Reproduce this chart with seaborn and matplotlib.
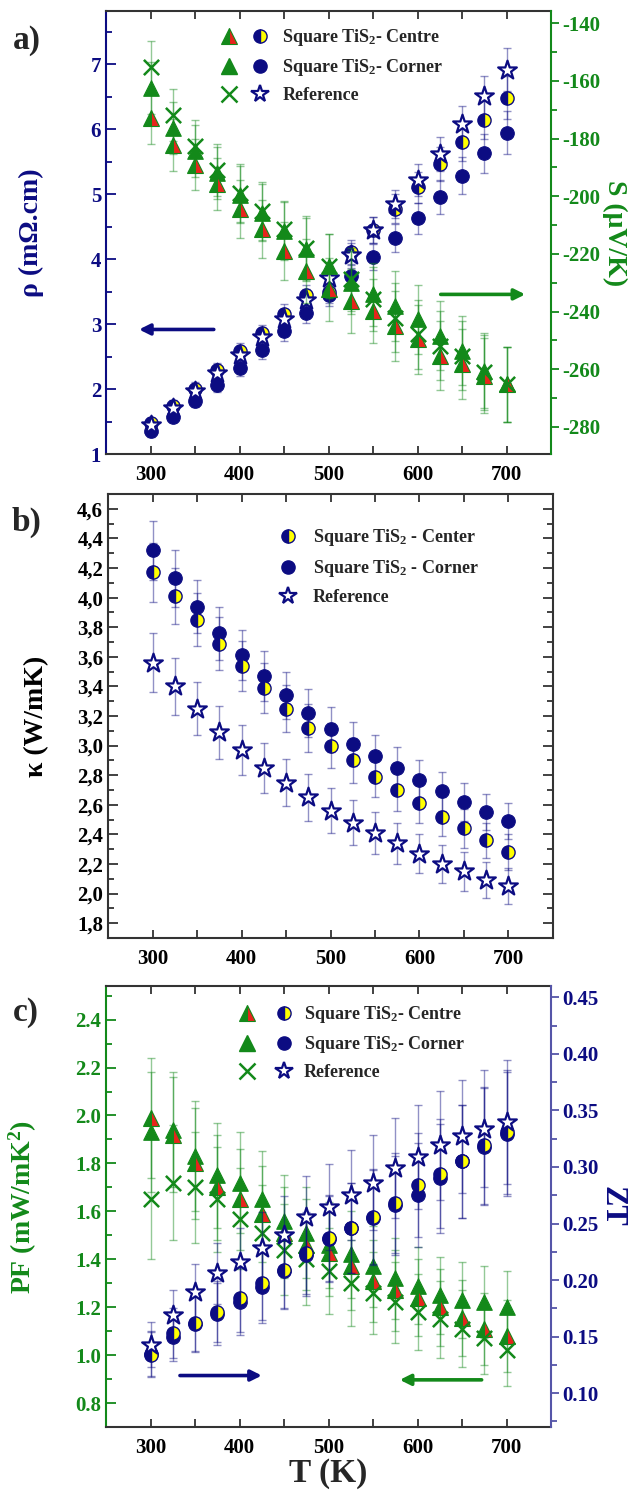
"""
plot.py - TiS2 thermoelectric properties (rho/S, kappa, PF/ZT) vs temperature.
"""

import matplotlib
matplotlib.use("Agg")
import pandas as pd
import seaborn as sns
import matplotlib.pyplot as plt
from matplotlib.lines import Line2D
from matplotlib.legend_handler import HandlerTuple
from matplotlib.ticker import MultipleLocator, FuncFormatter

# ---- data ----
T = [300, 325, 350, 375, 400, 425, 450, 475, 500, 525, 550, 575, 600, 625, 650, 675, 700]

rho_centre = [1.48, 1.74, 2.01, 2.29, 2.59, 2.86, 3.16, 3.45, 3.50, 4.11, 4.45, 4.78, 5.11, 5.47, 5.80, 6.15, 6.49]
rho_corner = [1.35, 1.58, 1.82, 2.07, 2.33, 2.60, 2.89, 3.18, 3.45, 3.74, 4.04, 4.33, 4.63, 4.96, 5.29, 5.63, 5.95]
rho_ref = [1.45, 1.71, 1.97, 2.25, 2.53, 2.81, 3.08, 3.38, 3.71, 4.06, 4.45, 4.85, 5.22, 5.62, 6.08, 6.52, 6.92]
rho_err = [0.08, 0.09, 0.10, 0.11, 0.12, 0.13, 0.15, 0.16, 0.17, 0.19, 0.20, 0.22, 0.24, 0.26, 0.28, 0.30, 0.33]

S_centre = [-172.9, -182.1, -189.0, -195.9, -204.4, -211.3, -219.0, -226.0, -232.3, -236.3, -239.8, -245.0, -249.6, -255.4, -258.2, -262.3, -265.2]
S_corner = [-162.5, -176.3, -184.4, -191.9, -199.4, -205.7, -212.1, -218.4, -224.2, -230.0, -234.0, -238.1, -242.7, -248.4, -253.6, -260.6, -265.2]
S_ref = [-155.0, -171.7, -182.7, -190.8, -198.8, -205.2, -211.5, -217.9, -224.2, -228.8, -235.7, -242.1, -247.9, -251.9, -255.4, -261.1, -265.2]
S_err = [9, 9, 9, 9, 10, 10, 10, 11, 11, 11, 11, 12, 12, 12, 12, 13, 13]

k_centre = [4.17, 4.01, 3.85, 3.69, 3.54, 3.39, 3.25, 3.12, 3.00, 2.90, 2.79, 2.70, 2.61, 2.52, 2.44, 2.36, 2.28]
k_corner = [4.32, 4.13, 3.94, 3.76, 3.61, 3.47, 3.34, 3.22, 3.11, 3.01, 2.93, 2.85, 2.77, 2.69, 2.62, 2.55, 2.49]
k_ref = [3.56, 3.40, 3.25, 3.09, 2.97, 2.85, 2.75, 2.65, 2.56, 2.48, 2.41, 2.34, 2.27, 2.20, 2.15, 2.09, 2.05]
k_err = [0.20, 0.19, 0.18, 0.18, 0.17, 0.17, 0.16, 0.16, 0.15, 0.15, 0.14, 0.14, 0.13, 0.13, 0.13, 0.12, 0.12]

pf_centre = [1.99, 1.92, 1.80, 1.70, 1.65, 1.59, 1.51, 1.46, 1.425, 1.37, 1.31, 1.27, 1.24, 1.20, 1.155, 1.11, 1.08]
pf_corner = [1.93, 1.94, 1.83, 1.75, 1.72, 1.65, 1.56, 1.51, 1.46, 1.42, 1.37, 1.32, 1.29, 1.25, 1.23, 1.22, 1.20]
pf_ref = [1.65, 1.72, 1.70, 1.65, 1.57, 1.51, 1.44, 1.40, 1.35, 1.30, 1.26, 1.22, 1.18, 1.15, 1.11, 1.07, 1.02]
pf_err = [0.25, 0.24, 0.23, 0.22, 0.21, 0.20, 0.19, 0.19, 0.18, 0.18, 0.17, 0.17, 0.16, 0.16, 0.16, 0.15, 0.15]

zt_centre = [0.134, 0.153, 0.162, 0.172, 0.184, 0.197, 0.209, 0.224, 0.237, 0.246, 0.256, 0.268, 0.284, 0.294, 0.305, 0.319, 0.331]
zt_corner = [0.135, 0.150, 0.161, 0.170, 0.181, 0.194, 0.208, 0.222, 0.236, 0.246, 0.255, 0.266, 0.275, 0.290, 0.305, 0.318, 0.329]
zt_ref = [0.143, 0.169, 0.189, 0.206, 0.216, 0.228, 0.240, 0.256, 0.265, 0.275, 0.286, 0.299, 0.309, 0.319, 0.327, 0.334, 0.340]
zt_err = [0.020, 0.022, 0.025, 0.027, 0.030, 0.032, 0.034, 0.036, 0.038, 0.040, 0.042, 0.044, 0.046, 0.048, 0.050, 0.052, 0.055]

NAVY = "#0c0c82"
GREEN = "#13891a"
RED = "#e8241c"
YELLOW = "#ffff00"
DARK = "#333333"

sns.set_theme(style="ticks")
plt.rcParams["font.family"] = ["Liberation Serif", "DejaVu Serif"]
plt.rcParams["font.weight"] = "bold"
plt.rcParams["axes.labelweight"] = "bold"
plt.rcParams["axes.unicode_minus"] = False
plt.rcParams["mathtext.fontset"] = "custom"
plt.rcParams["mathtext.rm"] = "Liberation Serif:bold"
plt.rcParams["mathtext.it"] = "Liberation Serif:bold"
plt.rcParams["mathtext.bf"] = "Liberation Serif:bold"

TICK_FS = 15
LAB_FS = 20
LEG_FS = 13

fig = plt.figure(figsize=(6.43, 14.94), dpi=100)


def err_bars(ax, y, err, color):
    ax.errorbar(T, y, yerr=err, fmt="none", ecolor=color, alpha=0.45,
                elinewidth=1.0, capsize=3, capthick=1.0, zorder=1)


def half_circle(ax, y):
    ax.plot(T, y, ls="none", marker="o", ms=9.5, fillstyle="left",
            mfc=NAVY, mfcalt=YELLOW, mec=NAVY, mew=1.0, zorder=3)


def half_triangle(ax, y):
    ax.plot(T, y, ls="none", marker="^", ms=11, fillstyle="left",
            mfc=GREEN, mfcalt=RED, mec=GREEN, mew=0.8, zorder=3)


def full_circle(ax, y):
    sns.scatterplot(x=T, y=y, ax=ax, marker="o", s=95, color=NAVY,
                    edgecolor=NAVY, linewidth=0.8, zorder=2, legend=False)


def full_triangle(ax, y):
    sns.scatterplot(x=T, y=y, ax=ax, marker="^", s=125, color=GREEN,
                    edgecolor=GREEN, linewidth=0.8, zorder=2, legend=False)


def star(ax, y):
    sns.scatterplot(x=T, y=y, ax=ax, marker="*", s=200, color="white",
                    edgecolor=NAVY, linewidth=1.6, zorder=4, legend=False)


def cross(ax, y):
    sns.scatterplot(x=T, y=y, ax=ax, marker="x", s=120, color=GREEN,
                    linewidth=1.8, zorder=4, legend=False)


h_tri_half = Line2D([], [], ls="none", marker="^", ms=11, fillstyle="left",
                    mfc=GREEN, mfcalt=RED, mec=GREEN, mew=0.8)
h_tri = Line2D([], [], ls="none", marker="^", ms=11, color=GREEN)
h_x = Line2D([], [], ls="none", marker="x", ms=11, mew=1.8, color=GREEN)
h_circ_half = Line2D([], [], ls="none", marker="o", ms=9.5, fillstyle="left",
                     mfc=NAVY, mfcalt=YELLOW, mec=NAVY, mew=1.0)
h_circ = Line2D([], [], ls="none", marker="o", ms=9.5, color=NAVY)
h_star = Line2D([], [], ls="none", marker="*", ms=13, mfc="white", mec=NAVY, mew=1.6)


def style_x(ax):
    ax.set_xlim(250, 750)
    ax.xaxis.set_major_locator(MultipleLocator(100))
    ax.xaxis.set_minor_locator(MultipleLocator(50))
    ax.tick_params(axis="x", which="both", direction="in", top=True, bottom=True,
                   labelsize=TICK_FS, colors=DARK, labelcolor="black", pad=8)
    ax.tick_params(axis="x", which="major", length=6, width=1.3)
    ax.tick_params(axis="x", which="minor", length=6, width=1.3)
    ax.spines["top"].set_color(DARK)
    ax.spines["bottom"].set_color(DARK)
    for s in ax.spines.values():
        s.set_linewidth(1.5)


def arrow(ax, x0, x1, y, color):
    ax.annotate("", xy=(x1, y), xytext=(x0, y),
                arrowprops=dict(arrowstyle="-|>", color=color, lw=2.6,
                                mutation_scale=16, shrinkA=0, shrinkB=0))


# ---------------- a) resistivity + Seebeck ----------------
axa = fig.add_axes([0.165, 0.696, 0.692, 0.2965])
axa2 = axa.twinx()

err_bars(axa, rho_corner, rho_err, NAVY)
err_bars(axa, rho_centre, rho_err, NAVY)
err_bars(axa, rho_ref, rho_err, NAVY)
full_circle(axa, rho_corner)
half_circle(axa, rho_centre)
star(axa, rho_ref)

err_bars(axa2, S_centre, S_err, GREEN)
err_bars(axa2, S_corner, S_err, GREEN)
err_bars(axa2, S_ref, S_err, GREEN)
full_triangle(axa2, S_corner)
half_triangle(axa2, S_centre)
cross(axa2, S_ref)

style_x(axa)
axa.set_ylim(1, 7.82)
axa.yaxis.set_major_locator(MultipleLocator(1))
axa.yaxis.set_minor_locator(MultipleLocator(0.5))
axa.tick_params(axis="y", which="both", direction="in", colors=NAVY,
                labelsize=TICK_FS, width=1.3)
axa.tick_params(axis="y", which="major", length=7)
axa.tick_params(axis="y", which="minor", length=4)
axa.spines["left"].set_color(NAVY)
axa.spines["right"].set_visible(False)
axa.set_ylabel("ρ (mΩ.cm)", color=NAVY, fontsize=LAB_FS)
axa.yaxis.set_label_coords(-0.14, 0.5)
axa.set_xlabel("")

axa2.set_ylim(-289.5, -135.8)
axa2.yaxis.set_major_locator(MultipleLocator(20))
axa2.yaxis.set_minor_locator(MultipleLocator(10))
axa2.yaxis.set_major_formatter(FuncFormatter(lambda v, p: f"{v:.0f}"))
axa2.tick_params(axis="y", which="both", direction="out", colors=GREEN,
                 labelsize=TICK_FS, width=1.3, pad=2)
axa2.tick_params(axis="y", which="major", length=6)
axa2.tick_params(axis="y", which="minor", length=4)
for side in ["left", "top", "bottom"]:
    axa2.spines[side].set_visible(False)
axa2.spines["right"].set_color(GREEN)
axa2.spines["right"].set_linewidth(1.5)
axa2.set_ylabel("S (μV/K)", color=GREEN, fontsize=LAB_FS, rotation=270)
axa2.yaxis.set_label_coords(1.17, 0.5)

arrow(axa, 371, 287, 2.92, NAVY)
arrow(axa, 626, 721, 3.46, GREEN)

axa2.legend([(h_tri_half, h_circ_half), (h_tri, h_circ), (h_x, h_star)],
            ["Square TiS$_2$- Centre", "Square TiS$_2$- Corner", "Reference"],
            handler_map={tuple: HandlerTuple(ndivide=None, pad=0.8)},
            loc="upper left", bbox_to_anchor=(212 / 643, 1 - 18 / 1494),
            bbox_transform=fig.transFigure, frameon=False, fontsize=LEG_FS,
            handlelength=2.6, handletextpad=0.8, labelspacing=0.5, borderpad=0)

fig.text(27 / 643, 1 - 40 / 1494, "a)", fontsize=24, ha="center", va="center")

# ---------------- b) thermal conductivity ----------------
axb = fig.add_axes([0.168, 0.3722, 0.692, 0.2971])
err_bars(axb, k_corner, k_err, NAVY)
err_bars(axb, k_centre, k_err, NAVY)
err_bars(axb, k_ref, k_err, NAVY)
full_circle(axb, k_corner)
half_circle(axb, k_centre)
star(axb, k_ref)

style_x(axb)
axb.set_ylim(1.7, 4.7)
axb.yaxis.set_major_locator(MultipleLocator(0.2))
axb.yaxis.set_minor_locator(MultipleLocator(0.1))
axb.yaxis.set_major_formatter(FuncFormatter(lambda v, p: f"{v:.1f}".replace(".", ",")))
axb.tick_params(axis="y", which="both", direction="in", left=True, right=True,
                colors=DARK, labelcolor="black", labelsize=TICK_FS, width=1.3)
axb.tick_params(axis="y", which="major", length=7)
axb.tick_params(axis="y", which="minor", length=4)
axb.spines["left"].set_color(DARK)
axb.spines["right"].set_color(DARK)
axb.set_ylabel("κ (W/mK)", color="black", fontsize=LAB_FS)
axb.yaxis.set_label_coords(-0.133, 0.5)
axb.set_xlabel("")

axb.legend([h_circ_half, h_circ, h_star],
           ["Square TiS$_2$ - Center", "Square TiS$_2$ - Corner", "Reference"],
           loc="upper left", bbox_to_anchor=(268 / 643, 1 - 518 / 1494),
           bbox_transform=fig.transFigure, frameon=False, fontsize=LEG_FS,
           handlelength=1.2, handletextpad=0.8, labelspacing=0.55, borderpad=0)

fig.text(27 / 643, 1 - 522 / 1494, "b)", fontsize=24, ha="center", va="center")

# ---------------- c) power factor + ZT ----------------
axc = fig.add_axes([0.165, 0.0448, 0.692, 0.2952])
axc2 = axc.twinx()

err_bars(axc, pf_centre, pf_err, GREEN)
err_bars(axc, pf_corner, pf_err, GREEN)
err_bars(axc, pf_ref, pf_err, GREEN)
full_triangle(axc, pf_corner)
half_triangle(axc, pf_centre)
cross(axc, pf_ref)

err_bars(axc2, zt_corner, zt_err, NAVY)
err_bars(axc2, zt_centre, zt_err, NAVY)
err_bars(axc2, zt_ref, zt_err, NAVY)
full_circle(axc2, zt_corner)
half_circle(axc2, zt_centre)
star(axc2, zt_ref)

style_x(axc)
axc.set_ylim(0.7, 2.54)
axc.yaxis.set_major_locator(MultipleLocator(0.2))
axc.yaxis.set_minor_locator(MultipleLocator(0.1))
axc.tick_params(axis="y", which="both", direction="in", colors=GREEN,
                labelsize=TICK_FS, width=1.3)
axc.tick_params(axis="y", which="major", length=7)
axc.tick_params(axis="y", which="minor", length=4)
axc.spines["left"].set_color(GREEN)
axc.spines["right"].set_visible(False)
axc.set_ylabel("PF (mW/mK$^2$)", color=GREEN, fontsize=LAB_FS)
axc.yaxis.set_label_coords(-0.15, 0.5)
axc.set_xlabel("T (K)", fontsize=24, labelpad=0)

axc2.set_ylim(0.07, 0.46)
axc2.yaxis.set_major_locator(MultipleLocator(0.05))
axc2.yaxis.set_minor_locator(MultipleLocator(0.025))
axc2.yaxis.set_major_formatter(FuncFormatter(lambda v, p: f"{v:.2f}"))
axc2.tick_params(axis="y", which="both", direction="out", colors="#5555a8",
                 labelcolor=NAVY, labelsize=TICK_FS, width=1.3, pad=2)
axc2.tick_params(axis="y", which="major", length=6)
axc2.tick_params(axis="y", which="minor", length=4)
for side in ["left", "top", "bottom"]:
    axc2.spines[side].set_visible(False)
axc2.spines["right"].set_color("#5555a8")
axc2.spines["right"].set_linewidth(1.5)
axc2.set_ylabel("ZT", color=NAVY, fontsize=LAB_FS + 2, rotation=270)
axc2.yaxis.set_label_coords(1.17, 0.5)

arrow(axc, 333, 425, 0.915, NAVY)
arrow(axc, 672, 580, 0.897, GREEN)

axc2.legend([(h_tri_half, h_circ_half), (h_tri, h_circ), (h_x, h_star)],
            ["Square TiS$_2$- Centre", "Square TiS$_2$- Corner", "Reference"],
            handler_map={tuple: HandlerTuple(ndivide=None, pad=1.2)},
            loc="upper left", bbox_to_anchor=(230 / 643, 1 - 995 / 1494),
            bbox_transform=fig.transFigure, frameon=False, fontsize=LEG_FS,
            handlelength=2.9, handletextpad=0.7, labelspacing=0.5, borderpad=0)

fig.text(26 / 643, 1 - 1013 / 1494, "c)", fontsize=24, ha="center", va="center")

plt.savefig("out.png", dpi=100)
